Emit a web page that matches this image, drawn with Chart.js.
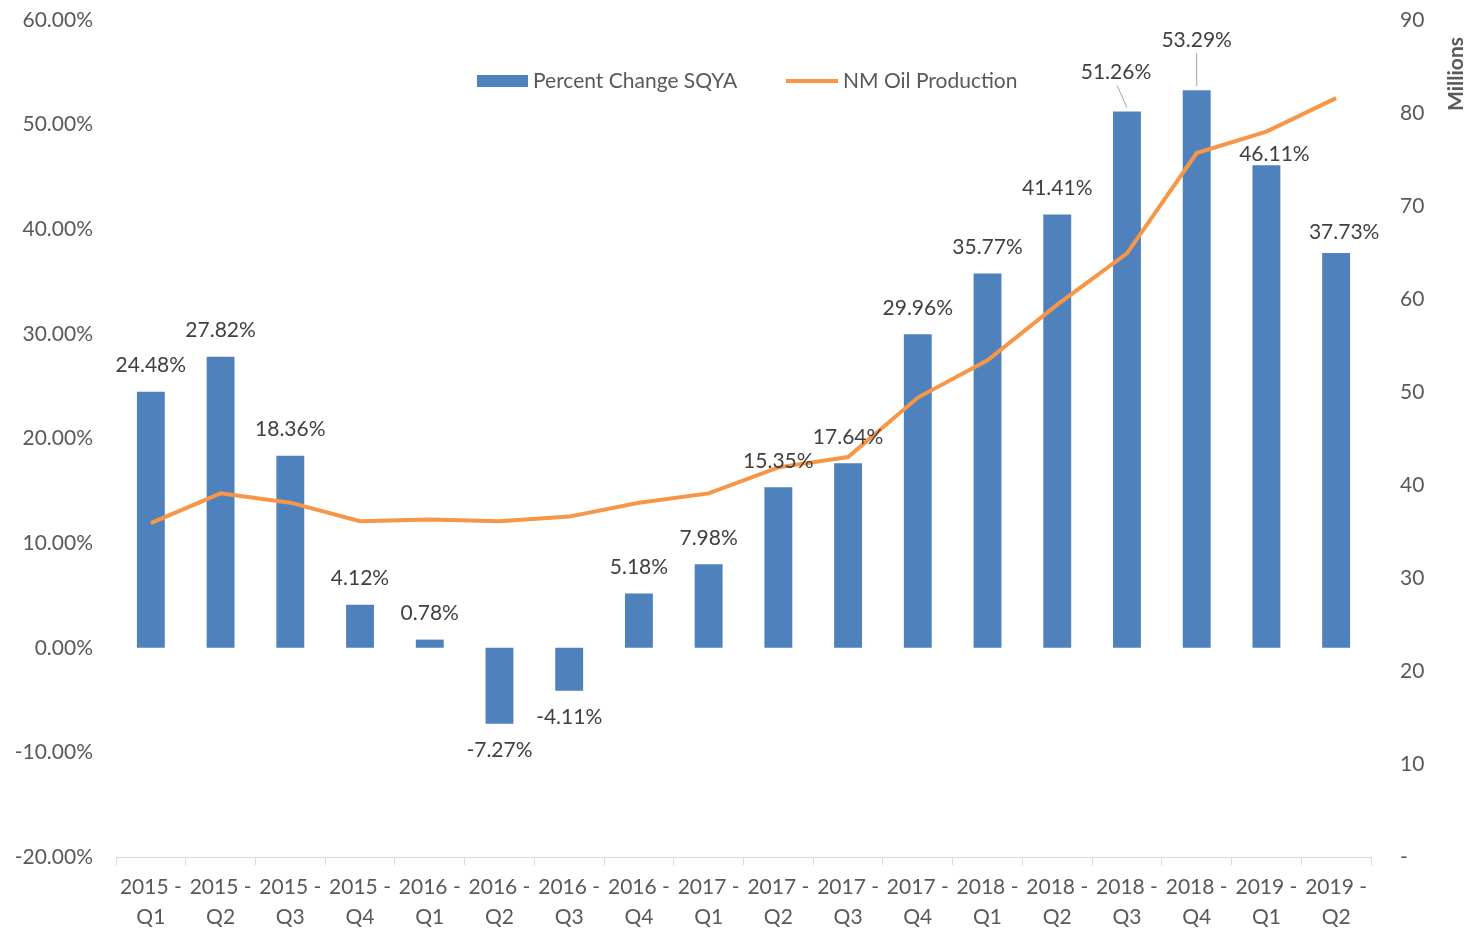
<!DOCTYPE html>
<html>
<head>
<meta charset="utf-8">
<script src="https://cdn.jsdelivr.net/npm/chart.js@4/dist/chart.umd.min.js"></script>
<style>
  html, body { margin: 0; padding: 0; background: #fff; }
  #wrap { width: 1470px; height: 928px; }
</style>
</head>
<body>
<div id="wrap"><canvas id="oilChart" width="1470" height="928"></canvas></div>
<script>
const quarters = [
    ['2015 -', 'Q1'], ['2015 -', 'Q2'], ['2015 -', 'Q3'], ['2015 -', 'Q4'],
    ['2016 -', 'Q1'], ['2016 -', 'Q2'], ['2016 -', 'Q3'], ['2016 -', 'Q4'],
    ['2017 -', 'Q1'], ['2017 -', 'Q2'], ['2017 -', 'Q3'], ['2017 -', 'Q4'],
    ['2018 -', 'Q1'], ['2018 -', 'Q2'], ['2018 -', 'Q3'], ['2018 -', 'Q4'],
    ['2019 -', 'Q1'], ['2019 -', 'Q2']
];
const percentChange = [24.48, 27.82, 18.36, 4.12, 0.78, -7.27, -4.11, 5.18, 7.98,
    15.35, 17.64, 29.96, 35.77, 41.41, 51.26, 53.29, 46.11, 37.73];
// millions of barrels
const oilProduction = [35.9, 39.1, 38.1, 36.1, 36.3, 36.1, 36.6, 38.1, 39.1,
    41.9, 43.0, 49.4, 53.4, 59.4, 64.9, 75.7, 78.0, 81.6];

const FONT = 'Lato, "Open Sans", sans-serif';
const TEXT = '#595959';
const BLUE = '#4f81bd';
const ORANGE = '#f79646';

// label nudges [dx, dy, leader line] for the crowded ones
const labelNudge = { 14: [-11, -13, true], 15: [0, -24, true], 16: [8, 15], 17: [8, 5] };

const barLabels = {
    id: 'barLabels',
    afterDatasetsDraw(chart) {
        const ctx = chart.ctx;
        const meta = chart.getDatasetMeta(1);
        ctx.save();
        ctx.font = '21px ' + FONT;
        ctx.fillStyle = '#404040';
        ctx.textAlign = 'center';
        ctx.textBaseline = 'middle';
        meta.data.forEach((bar, i) => {
            const v = percentChange[i];
            const n = labelNudge[i] || [0, 0];
            const x = bar.x + n[0];
            const y = (v >= 0 ? bar.y - 26 : bar.y + 26) + n[1];
            if (n[2]) {
                ctx.strokeStyle = '#a6a6a6';
                ctx.lineWidth = 1;
                ctx.beginPath();
                ctx.moveTo(x + (bar.x - x) * 0.1, y + 13);
                ctx.lineTo(bar.x, bar.y - 4);
                ctx.stroke();
            }
            ctx.fillText(v.toFixed(2) + '%', x, y);
        });
        ctx.restore();
    }
};

const extras = {
    id: 'extras',
    afterDraw(chart) {
        const ctx = chart.ctx;
        ctx.save();
        // legend
        ctx.font = '21px ' + FONT;
        ctx.textBaseline = 'middle';
        ctx.textAlign = 'left';
        ctx.fillStyle = BLUE;
        ctx.fillRect(477, 75, 51, 12);
        ctx.fillStyle = TEXT;
        ctx.fillText(chart.data.datasets[1].label, 533, 81);
        ctx.strokeStyle = ORANGE;
        ctx.lineWidth = 4;
        ctx.beginPath();
        ctx.moveTo(786, 81);
        ctx.lineTo(838, 81);
        ctx.stroke();
        ctx.fillText(chart.data.datasets[0].label, 843, 81);
        // right axis title
        ctx.translate(1456, 74);
        ctx.rotate(-Math.PI / 2);
        ctx.textAlign = 'center';
        ctx.font = 'bold 21px ' + FONT;
        ctx.fillText('Millions', 0, 0);
        ctx.restore();
    }
};

const noPad = s => { s.paddingTop = 0; s.paddingBottom = 0; };

new Chart(document.getElementById('oilChart'), {
    data: {
        labels: quarters,
        datasets: [{
            type: 'line',
            label: 'NM Oil Production',
            data: oilProduction,
            yAxisID: 'y2',
            borderColor: ORANGE,
            borderWidth: 4,
            pointRadius: 0,
            tension: 0
        }, {
            type: 'bar',
            label: 'Percent Change SQYA',
            data: percentChange,
            yAxisID: 'y',
            backgroundColor: BLUE,
            barPercentage: 0.4,
            categoryPercentage: 1
        }]
    },
    options: {
        responsive: false,
        animation: false,
        layout: { padding: { top: 20, left: 0, right: 0, bottom: 0 } },
        plugins: { legend: { display: false }, tooltip: { enabled: false } },
        scales: {
            x: {
                grid: { display: true, offset: true, drawOnChartArea: false, tickLength: 8, color: '#d9d9d9' },
                border: { color: '#d9d9d9' },
                ticks: { color: TEXT, font: { family: FONT, size: 21, lineHeight: 1.4 }, padding: 8, maxRotation: 0 },
                afterFit: s => { s.height = 71; }
            },
            y: {
                position: 'left',
                min: -20, max: 60,
                grid: { display: false, drawTicks: false },
                border: { display: false },
                ticks: { stepSize: 10, color: TEXT, font: { family: FONT, size: 21 }, padding: 23,
                    callback: v => v.toFixed(2) + '%' },
                afterFit: s => { s.width = 116; noPad(s); }
            },
            y2: {
                position: 'right',
                min: 0, max: 90,
                grid: { display: false, drawTicks: false },
                border: { display: false },
                ticks: { stepSize: 10, color: TEXT, font: { family: FONT, size: 21 }, padding: 29,
                    callback: v => v === 0 ? '-' : v },
                afterFit: s => { s.width = 99; noPad(s); }
            }
        }
    },
    plugins: [barLabels, extras]
});
</script>
</body>
</html>
